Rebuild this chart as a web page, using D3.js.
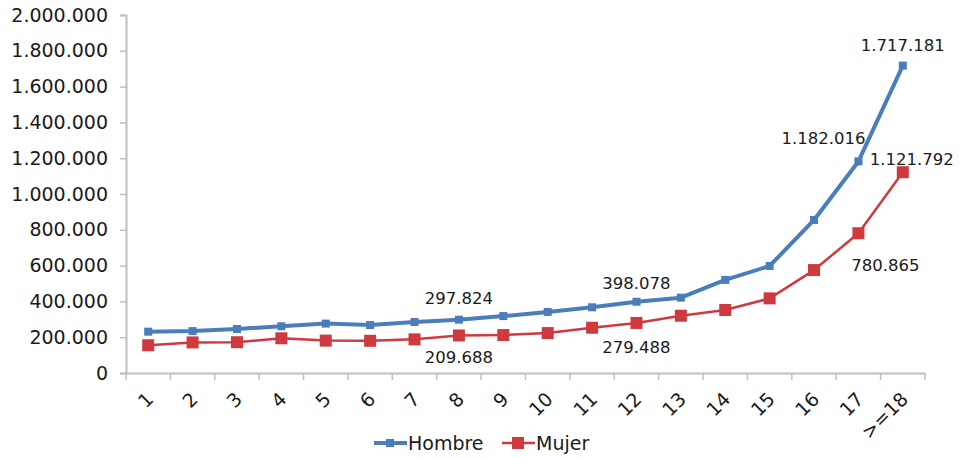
<!DOCTYPE html>
<html><head><meta charset="utf-8">
<script src="https://cdn.jsdelivr.net/npm/d3@7"></script>
<style>body{margin:0;background:#fff}svg{display:block}text{font-family:"DejaVu Sans",Verdana,sans-serif;fill:#1a1a1a}</style>
</head><body>
<script>
const categories = ["1","2","3","4","5","6","7","8","9","10","11","12","13","14","15","16","17",">=18"];
const hombre = [231000,234000,246000,261000,276000,268000,285000,297824,318000,341000,367000,398078,421000,520000,598000,855000,1182016,1717181];
const mujer  = [155000,171000,172000,194000,181000,180000,188000,209688,212000,223000,253000,279488,320000,352000,417000,575000,780865,1121792];
const yTicks = [0,200000,400000,600000,800000,1000000,1200000,1400000,1600000,1800000,2000000];
const seriesNames = ["Hombre","Mujer"];
// labelled points: [index, dx, dy]
const hLabels = [[7,0,-21],[11,0,-19],[16,-35,-23],[17,0,-20]];
const mLabels = [[7,0,22],[11,0,24],[16,27,32],[17,9,-13]];

const W=961,H=458;
const svg=d3.select("body").append("svg").attr("width",W).attr("height",H);
const x=d3.scaleBand().domain(categories).range([126,925]);
const y=d3.scaleLinear().domain([0,2000000]).range([373,15]);
const fmt=v=>d3.format(",")(v).replace(/,/g,".");
const blue="#4a7ebb", red="#cf3a3e";

// axes
const ya=svg.append("g").attr("transform","translate(126,0)")
  .call(d3.axisLeft(y).tickValues(yTicks).tickSize(6).tickPadding(12).tickFormat(fmt));
ya.select(".domain").attr("stroke","#bfbfbf").attr("stroke-width",2);
ya.selectAll(".tick line").attr("stroke","#bfbfbf").attr("stroke-width",1.5);
ya.selectAll("text").style("font-size","19px").attr("fill","#1a1a1a");

const xa=svg.append("g").attr("transform","translate(0,373)")
  .call(d3.axisBottom(x).tickSize(0).tickFormat(""));
xa.select(".domain").attr("stroke","#bfbfbf").attr("stroke-width",2);
xa.selectAll(".tick").remove();
const bounds=categories.map((c,i)=>x(c)).concat([x.range()[1]]);
svg.append("g").selectAll("line").data(bounds).join("line")
  .attr("x1",d=>d).attr("x2",d=>d).attr("y1",373).attr("y2",380)
  .attr("stroke","#bfbfbf").attr("stroke-width",1.5);
svg.append("g").selectAll("text").data(categories).join("text")
  .attr("transform",c=>`translate(${x(c)+x.bandwidth()/2-3},${391}) rotate(-45)`)
  .attr("text-anchor","end").attr("dy","0.7em").style("font-size","19px").text(c=>c);

const line=d3.line().x((d,i)=>x(categories[i])+x.bandwidth()/2).y(d=>y(d));
function drawSeries(data,color,lw,ms){
  svg.append("path").datum(data).attr("d",line).attr("fill","none")
    .attr("stroke",color).attr("stroke-width",lw).attr("stroke-linejoin","round");
  svg.append("g").selectAll("rect").data(data).join("rect")
    .attr("x",(d,i)=>x(categories[i])+x.bandwidth()/2-ms/2).attr("y",d=>y(d)-ms/2)
    .attr("width",ms).attr("height",ms).attr("fill",color);
}
drawSeries(hombre,blue,4,8);
drawSeries(mujer,red,2.5,12);

function labels(data,arr){
  svg.append("g").selectAll("text").data(arr).join("text")
    .attr("x",d=>x(categories[d[0]])+x.bandwidth()/2+d[1])
    .attr("y",d=>y(data[d[0]])+d[2]).attr("dy","0.35em")
    .attr("text-anchor","middle").style("font-size","16.5px").text(d=>fmt(data[d[0]]));
}
labels(hombre,hLabels);
labels(mujer,mLabels);

// legend
const lg=svg.append("g");
const items=[{n:seriesNames[0],c:blue,lw:4,ms:8,x:374},{n:seriesNames[1],c:red,lw:2.5,ms:12,x:502}];
items.forEach(it=>{
  lg.append("line").attr("x1",it.x).attr("x2",it.x+33).attr("y1",443).attr("y2",443).attr("stroke",it.c).attr("stroke-width",it.lw);
  lg.append("rect").attr("x",it.x+16-it.ms/2).attr("y",443-it.ms/2).attr("width",it.ms).attr("height",it.ms).attr("fill",it.c);
  lg.append("text").attr("x",it.x+34).attr("y",443).attr("dy","0.35em").style("font-size","19px").text(it.n);
});
</script>
</body></html>
